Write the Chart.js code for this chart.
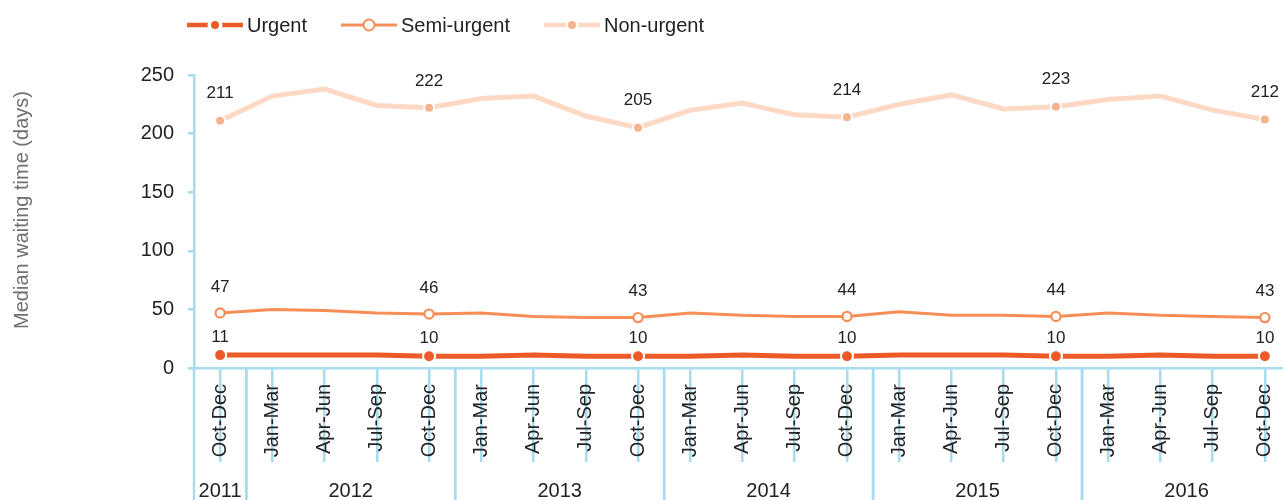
<!DOCTYPE html>
<html>
<head>
<meta charset="utf-8">
<script src="https://cdn.jsdelivr.net/npm/chart.js@4/dist/chart.umd.min.js"></script>
<style>
html, body { margin: 0; padding: 0; background: #fff; width: 1283px; height: 500px; overflow: hidden; }
#wrap { position: relative; width: 1283px; height: 500px; overflow: hidden; }
#myChart { display: block; }
</style>
</head>
<body>
<div id="wrap"><canvas id="myChart" width="1291" height="500"></canvas></div>
<script>
const quarters = ["Oct-Dec",
    "Jan-Mar", "Apr-Jun", "Jul-Sep", "Oct-Dec",
    "Jan-Mar", "Apr-Jun", "Jul-Sep", "Oct-Dec",
    "Jan-Mar", "Apr-Jun", "Jul-Sep", "Oct-Dec",
    "Jan-Mar", "Apr-Jun", "Jul-Sep", "Oct-Dec",
    "Jan-Mar", "Apr-Jun", "Jul-Sep", "Oct-Dec"];
const quarter_years = [2011,
    2012, 2012, 2012, 2012,
    2013, 2013, 2013, 2013,
    2014, 2014, 2014, 2014,
    2015, 2015, 2015, 2015,
    2016, 2016, 2016, 2016];

// median waiting time in days
const urgent      = [11, 11, 11, 11, 10, 10, 11, 10, 10, 10, 11, 10, 10, 11, 11, 11, 10, 10, 11, 10, 10];
const semi_urgent = [47, 50, 49, 47, 46, 47, 44, 43, 43, 47, 45, 44, 44, 48, 45, 45, 44, 47, 45, 44, 43];
const non_urgent  = [211, 232, 238, 224, 222, 230, 232, 215, 205, 220, 226, 216, 214, 225, 233, 221, 223, 229, 232, 220, 212];

// every fourth quarter (Oct-Dec) gets a marker and its value written above
const marked = [0, 4, 8, 12, 16, 20];

const y_title = 'Median waiting time (days)';

const FONT = '"Liberation Sans", Arial, Helvetica, sans-serif';
const AXIS_BLUE = '#a7dbef';
const TEXT = '#222';

Chart.defaults.font.family = FONT;
Chart.defaults.color = TEXT;

function at_marks(on, off) {
    return ctx => marked.includes(ctx.dataIndex) ? on : off;
}

/** line + marker key drawn across the top */
const seriesKey = {
    id: 'seriesKey',
    afterDraw(chart) {
        const ctx = chart.ctx;
        const y = 25;
        let x = 187;
        ctx.save();
        ctx.font = '20px ' + FONT;
        ctx.textBaseline = 'middle';
        chart.data.datasets.forEach(ds => {
            const k = ds.key;
            ctx.strokeStyle = ds.borderColor;
            ctx.lineWidth = k.line;
            ctx.beginPath();
            ctx.moveTo(x, y);
            ctx.lineTo(x + 56, y);
            ctx.stroke();
            const cx = x + 28;
            if (k.gap) {
                ctx.fillStyle = '#fff';
                ctx.beginPath(); ctx.arc(cx, y, k.gap, 0, Math.PI * 2); ctx.fill();
            }
            ctx.beginPath();
            ctx.arc(cx, y, k.r, 0, Math.PI * 2);
            if (k.hollow) {
                ctx.fillStyle = '#fff';
                ctx.fill();
                ctx.lineWidth = 2;
                ctx.strokeStyle = ds.borderColor;
                ctx.stroke();
            } else {
                ctx.fillStyle = ds.pointBackgroundColor;
                ctx.fill();
            }
            ctx.fillStyle = TEXT;
            ctx.fillText(ds.label, x + 60, y + 1);
            x += 60 + ctx.measureText(ds.label).width + 34;
        });
        ctx.restore();
    }
};

/** writes the value above each marked point */
const pointValues = {
    id: 'pointValues',
    afterDatasetsDraw(chart) {
        const ctx = chart.ctx;
        ctx.save();
        ctx.font = '17px ' + FONT;
        ctx.fillStyle = TEXT;
        ctx.textAlign = 'center';
        ctx.textBaseline = 'middle';
        chart.data.datasets.forEach((ds, i) => {
            const meta = chart.getDatasetMeta(i);
            marked.forEach(idx => {
                const pt = meta.data[idx];
                ctx.fillText(String(ds.data[idx]), pt.x, pt.y - ds.labelOffset);
            });
        });
        ctx.restore();
    }
};

/** y axis title, set a little above the middle of the plot */
const yTitle = {
    id: 'yTitle',
    afterDraw(chart) {
        const ctx = chart.ctx;
        ctx.save();
        ctx.translate(22, 210);
        ctx.rotate(-Math.PI / 2);
        ctx.font = '20px ' + FONT;
        ctx.fillStyle = '#707070';
        ctx.textAlign = 'center';
        ctx.textBaseline = 'middle';
        ctx.fillText(y_title, 0, 0);
        ctx.restore();
    }
};

/** second row of the x axis: years spanning their quarters */
const yearRow = {
    id: 'yearRow',
    afterDraw(chart) {
        const ctx = chart.ctx;
        const xs = chart.scales.x;
        const top = chart.chartArea.bottom;
        const groups = [];
        quarter_years.forEach((yr, i) => {
            const last = groups[groups.length - 1];
            if (last && last.year === yr) last.end = i;
            else groups.push({year: yr, start: i, end: i});
        });
        ctx.save();
        ctx.strokeStyle = AXIS_BLUE;
        ctx.lineWidth = 2.5;
        ctx.font = '20px ' + FONT;
        ctx.fillStyle = TEXT;
        ctx.textAlign = 'center';
        ctx.textBaseline = 'alphabetic';
        groups.forEach(g => {
            const left = xs.getPixelForValue(g.start - 0.5);
            const right = xs.getPixelForValue(g.end + 0.5);
            ctx.beginPath();
            ctx.moveTo(left, top);
            ctx.lineTo(left, 500);
            ctx.moveTo(right, top);
            ctx.lineTo(right, 500);
            ctx.stroke();
            ctx.fillText(String(g.year), (left + right) / 2, 497);
        });
        ctx.restore();
    }
};

function draw() {
    const ctx = document.getElementById('myChart').getContext('2d');
    return new Chart(ctx, {
        type: 'line',
        data: {
            labels: quarters,
            datasets: [
                {
                    label: 'Urgent',
                    data: urgent,
                    borderColor: '#ec5b27',
                    borderWidth: 5,
                    pointBackgroundColor: '#ec5b27',
                    pointBorderColor: '#fff',
                    pointBorderWidth: 2,
                    pointRadius: at_marks(6, 0),
                    labelOffset: 18,
                    key: {line: 4.5, r: 4, gap: 7.5}
                },
                {
                    label: 'Semi-urgent',
                    data: semi_urgent,
                    borderColor: '#f78e58',
                    borderWidth: 3,
                    pointBackgroundColor: '#fff',
                    pointBorderColor: '#f78e58',
                    pointBorderWidth: 2.2,
                    pointRadius: at_marks(4.6, 0),
                    labelOffset: 26,
                    key: {line: 3, r: 5.5, hollow: true}
                },
                {
                    label: 'Non-urgent',
                    data: non_urgent,
                    borderColor: '#fdd9c5',
                    borderWidth: 5,
                    pointBackgroundColor: '#f5b390',
                    pointBorderColor: '#fff',
                    pointBorderWidth: 2,
                    pointRadius: at_marks(5, 0),
                    labelOffset: 27,
                    key: {line: 4.5, r: 4, gap: 6}
                }
            ]
        },
        options: {
            responsive: false,
            animation: false,
            layout: {
                autoPadding: false,
                padding: {top: 75, left: 0, right: 0, bottom: 0}
            },
            elements: {line: {tension: 0}, point: {hoverRadius: 0}},
            plugins: {
                legend: {display: false},
                tooltip: {enabled: false}
            },
            scales: {
                x: {
                    offset: true,
                    grid: {
                        drawOnChartArea: false,
                        color: AXIS_BLUE,
                        lineWidth: 2.5,
                        tickLength: 94
                    },
                    border: {color: AXIS_BLUE, width: 2.5},
                    ticks: {
                        autoSkip: false,
                        minRotation: 90,
                        maxRotation: 90,
                        padding: -78,
                        color: TEXT,
                        font: {size: 20}
                    },
                    afterFit(scale) {
                        scale.height = 132;
                        // the plot runs right to the canvas edge
                        scale.paddingLeft = 0;
                        scale.paddingRight = 0;
                    }
                },
                y: {
                    min: 0,
                    max: 250,
                    ticks: {stepSize: 50, padding: 14, color: TEXT, font: {size: 20}},
                    grid: {
                        drawOnChartArea: false,
                        color: AXIS_BLUE,
                        lineWidth: 2.5,
                        tickLength: 6
                    },
                    border: {color: AXIS_BLUE, width: 2.5},
                    afterFit(scale) { scale.width = 194; }
                }
            }
        },
        plugins: [seriesKey, pointValues, yTitle, yearRow]
    });
}

draw();
</script>
</body>
</html>
